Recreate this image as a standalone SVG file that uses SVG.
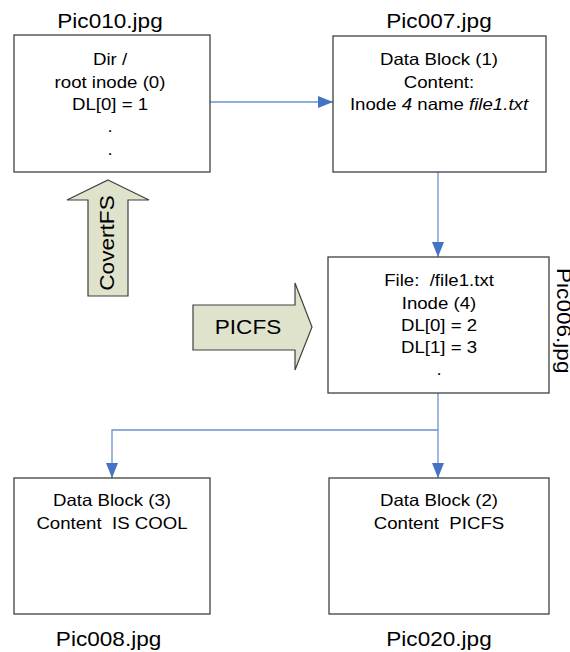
<svg xmlns="http://www.w3.org/2000/svg" width="570" height="652" viewBox="0 0 570 652">
  <style>
    .box { fill: #ffffff; stroke: #404040; stroke-width: 1.3; }
    .txt { font-family: "Liberation Sans", Arial, sans-serif; font-size: 16.5px; fill: #000; text-anchor: middle; white-space: pre; }
    .lbl { font-family: "Liberation Sans", Arial, sans-serif; font-size: 20px; fill: #000; text-anchor: middle; }
    .conn { fill: none; stroke: #6a92d4; stroke-width: 1.3; }
    .big { fill: #dfe3cc; stroke: #404040; stroke-width: 1.2; stroke-linejoin: miter; }
  </style>
  <defs>
    <marker id="arrow" markerUnits="userSpaceOnUse" markerWidth="15" markerHeight="12" refX="15" refY="6" orient="auto">
      <path d="M0,0 L15,6 L0,12 z" fill="#4472c4"/>
    </marker>
  </defs>

  <rect width="570" height="652" fill="#ffffff"/>

  <!-- connectors -->
  <g id="connectors">
    <path class="conn" d="M210,102 H333" marker-end="url(#arrow)"/>
    <path class="conn" d="M438,172 V257" marker-end="url(#arrow)"/>
    <path class="conn" d="M438,393 V478" marker-end="url(#arrow)"/>
    <path class="conn" d="M438,430 H112 V478" marker-end="url(#arrow)"/>
  </g>

  <!-- root directory inode -->
  <g id="root-inode">
    <rect class="box" x="14" y="35" width="196" height="137"/>
    <g transform="translate(110,0) scale(1.13,1)">
      <text class="lbl" x="0" y="28">Pic010.jpg</text>
      <text class="txt" x="0" y="65">Dir /</text>
      <text class="txt" x="0" y="88">root inode (0)</text>
      <text class="txt" x="0" y="110">DL[0] = 1</text>
      <text class="txt" x="0" y="132">.</text>
      <text class="txt" x="0" y="155">.</text>
    </g>
  </g>

  <!-- data block 1 -->
  <g id="data-block-1">
    <rect class="box" x="333" y="36" width="213" height="136"/>
    <g transform="translate(439,0) scale(1.13,1)">
      <text class="lbl" x="0" y="28">Pic007.jpg</text>
      <text class="txt" x="0" y="65">Data Block (1)</text>
      <text class="txt" x="0" y="88">Content:</text>
      <text class="txt" x="0" y="110">Inode <tspan font-style="italic">4</tspan> name <tspan font-style="italic">file1.txt</tspan></text>
    </g>
  </g>

  <!-- file inode -->
  <g id="file-inode">
    <rect class="box" x="328" y="257" width="221" height="136"/>
    <g transform="translate(439,0) scale(1.13,1)">
      <text class="txt" x="0" y="286">File:  /file1.txt</text>
      <text class="txt" x="0" y="309">Inode (4)</text>
      <text class="txt" x="0" y="331">DL[0] = 2</text>
      <text class="txt" x="0" y="353">DL[1] = 3</text>
      <text class="txt" x="0" y="375">.</text>
    </g>
    <text class="lbl" style="text-anchor:start" transform="translate(557,268) rotate(90) scale(1.13,1)">Pic006.jpg</text>
  </g>

  <!-- data block 3 -->
  <g id="data-block-3">
    <rect class="box" x="14" y="478" width="196" height="136"/>
    <g transform="translate(112,0) scale(1.13,1)">
      <text class="txt" x="0" y="506">Data Block (3)</text>
      <text class="txt" x="0" y="529">Content  IS COOL</text>
      <text class="lbl" x="-3" y="646">Pic008.jpg</text>
    </g>
  </g>

  <!-- data block 2 -->
  <g id="data-block-2">
    <rect class="box" x="329" y="478" width="220" height="136"/>
    <g transform="translate(439,0) scale(1.13,1)">
      <text class="txt" x="0" y="506">Data Block (2)</text>
      <text class="txt" x="0" y="529">Content  PICFS</text>
      <text class="lbl" x="0" y="646">Pic020.jpg</text>
    </g>
  </g>

  <!-- CovertFS block arrow -->
  <g id="covertfs">
    <path class="big" d="M108,180 L149,200 L128,200 L128,296 L88,296 L88,200 L67,200 Z"/>
    <text class="lbl" transform="translate(114,243) rotate(-90) scale(1.13,1)">CovertFS</text>
  </g>

  <!-- PICFS block arrow -->
  <g id="picfs">
    <path class="big" d="M193,305 L295,305 L295,283 L312,327 L295,370 L295,350 L193,350 Z"/>
    <text class="lbl" transform="translate(248,334) scale(1.13,1)">PICFS</text>
  </g>
</svg>
